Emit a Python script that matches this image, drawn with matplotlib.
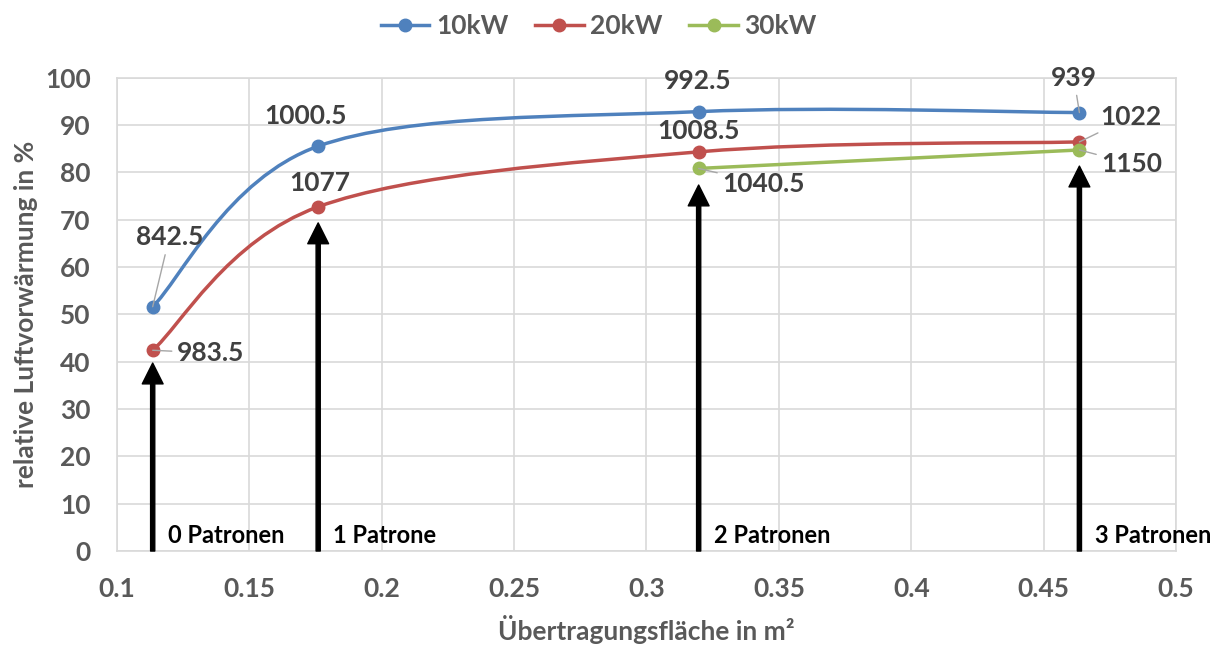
import numpy as np
import matplotlib
matplotlib.use("Agg")
import matplotlib.pyplot as plt
from matplotlib.path import Path
from matplotlib.patches import PathPatch
from matplotlib.lines import Line2D

plt.rcParams['font.family'] = ['Lato', 'DejaVu Sans']

# data
area_10 = [0.1135, 0.176, 0.3197, 0.4635]
value_10 = [51.6, 85.5, 92.8, 92.6]
labels_10 = ["842.5", "1000.5", "992.5", "939"]

area_20 = [0.1135, 0.176, 0.3197, 0.4635]
value_20 = [42.4, 72.7, 84.3, 86.4]
labels_20 = ["983.5", "1077", "1008.5", "1022"]

area_30 = [0.3197, 0.4635]
value_30 = [80.8, 84.7]
labels_30 = ["1040.5", "1150"]

arrow_x = [0.1135, 0.176, 0.3197, 0.4635]
arrow_tip = [39.7, 69.3, 77.3, 81.3]
arrow_text = ["0 Patronen", "1 Patrone", "2 Patronen", "3 Patronen"]

BLUE = "#4f81bd"
RED = "#c0504d"
GREEN = "#9bbb59"
GRID = "#d9d9d9"
TICK = "#595959"
LABEL = "#404040"

# label offsets in points (dx, dy) and whether a leader line is drawn
offsets_10 = [((12, 50), True), ((-9, 22), False), ((-1, 22), False), ((-4, 25), True)]
offsets_20 = [((42, -2), True), ((1, 17), False), ((0, 15), False), ((37, 18), True)]
offsets_30 = [((47, -11), True), ((38, -10), True)]


def smooth_path(xs, ys):
    # Excel-like smoothed line: cubic bezier segments with tension 1/6
    pts = np.column_stack([xs, ys]).astype(float)
    n = len(pts)
    verts = [pts[0]]
    codes = [Path.MOVETO]
    for i in range(n - 1):
        p0 = pts[i - 1] if i > 0 else pts[i]
        p1 = pts[i]
        p2 = pts[i + 1]
        p3 = pts[i + 2] if i + 2 < n else pts[i + 1]
        c1 = p1 + (p2 - p0) / 6
        c2 = p2 - (p3 - p1) / 6
        verts += [c1, c2, p2]
        codes += [Path.CURVE4] * 3
    return Path(verts, codes)


fig = plt.figure(figsize=(12.22, 6.46), dpi=100)
ax = fig.add_axes([0.0957, 0.147, 0.8667, 0.733])

series = [
    (area_10, value_10, labels_10, offsets_10, BLUE, "10kW"),
    (area_20, value_20, labels_20, offsets_20, RED, "20kW"),
    (area_30, value_30, labels_30, offsets_30, GREEN, "30kW"),
]

handles = []
for xs, ys, labs, offs, col, name in series:
    ax.add_patch(PathPatch(smooth_path(xs, ys), facecolor="none",
                           edgecolor=col, lw=2.5, zorder=3))
    ax.plot(xs, ys, linestyle="none", marker="o", ms=9, color=col, zorder=4)
    handles.append(Line2D([], [], color=col, lw=2.5, marker="o", ms=9))
    for x, y, lab, (off, leader) in zip(xs, ys, labs, offs):
        kw = {}
        if leader:
            kw["arrowprops"] = dict(arrowstyle="-", color="#a6a6a6", lw=1,
                                    shrinkA=2, shrinkB=0)
        ax.annotate(lab, xy=(x, y), xytext=off, textcoords="offset points",
                    ha="center", va="center", fontsize=19, fontweight="bold",
                    color=LABEL, zorder=5, **kw)

for x, tip, txt in zip(arrow_x, arrow_tip, arrow_text):
    ax.annotate("", xy=(x, tip), xytext=(x, 0),
                arrowprops=dict(facecolor="black", edgecolor="black",
                                width=3, headwidth=15, headlength=15, shrink=0),
                zorder=6)
    ax.annotate(txt, xy=(x, 3.3), xytext=(11, 0), textcoords="offset points",
                ha="left", va="center", fontsize=17, fontweight="bold",
                color="black", zorder=6)

ax.set_xlim(0.1, 0.5)
ax.set_ylim(0, 100)
ax.set_xticks(np.arange(0.1, 0.51, 0.05))
ax.set_xticklabels(["0.1", "0.15", "0.2", "0.25", "0.3", "0.35", "0.4", "0.45", "0.5"])
ax.set_yticks(np.arange(0, 101, 10))
ax.grid(True, color=GRID, lw=1.2)
ax.set_axisbelow(True)
for s in ax.spines.values():
    s.set_color(GRID)
    s.set_linewidth(1.2)
ax.tick_params(length=0, labelsize=19, labelcolor=TICK, pad=19)
for t in ax.get_xticklabels() + ax.get_yticklabels():
    t.set_fontweight("bold")

ax.set_xlabel("Übertragungsfläche in m²", fontsize=19, fontweight="bold",
              color=TICK, labelpad=10)
ax.set_ylabel("relative Luftvorwärmung in %", fontsize=19, fontweight="bold",
              color=TICK, labelpad=5)

fig.legend(handles, ["10kW", "20kW", "30kW"], loc="upper center",
           bbox_to_anchor=(0.49, 1.015), ncol=3, frameon=False,
           prop=dict(size=19, weight="bold"), labelcolor=TICK,
           handlelength=1.85, columnspacing=1.0, handletextpad=0.25)

fig.savefig("out.png", dpi=100)
